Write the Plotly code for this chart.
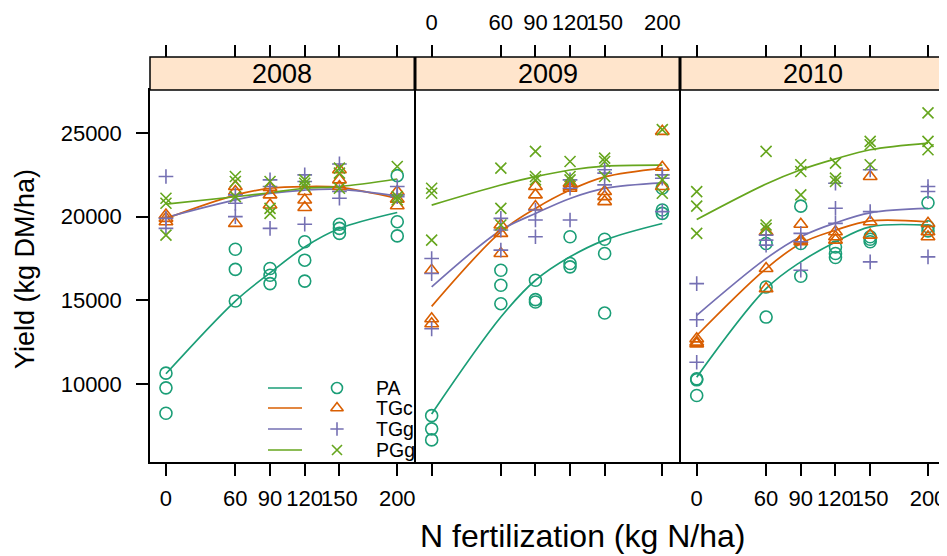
import plotly.graph_objects as go

W, H = 947, 556

# ---------------- data ----------------
years = ["2008", "2009", "2010"]
species = ["PA", "TGc", "TGg", "PGg"]
doses = [0, 60, 90, 120, 150, 200]
dose_labels = ["0", "60", "90", "120", "150", "200"]
y_ticks = [10000, 15000, 20000, 25000]
y_tick_labels = ["10000", "15000", "20000", "25000"]

# observed yields (kg DM/ha), 3 replicates per dose (doses 0,60,90,120,150,200)
pa_2008 = [10650, 9770, 8250, 18050, 16850, 14960, 16900, 16500, 16000,
           18500, 17400, 16150, 19550, 19300, 19000, 22450, 19700, 18850]
tgc_2008 = [20100, 19900, 19700, 21800, 21500, 19600, 21750, 21300, 20700,
            21500, 21000, 20550, 22800, 22200, 21800, 21500, 21050, 20650]
tgg_2008 = [22400, 19900, 19300, 21300, 20800, 20000, 22200, 21800, 19300,
            22500, 22100, 19550, 23150, 21500, 21100, 21800, 21200, 21300]
pgg_2008 = [21100, 20800, 18900, 22400, 22100, 21200, 22100, 20500, 20200,
            22200, 22000, 21800, 22900, 22600, 21700, 23000, 21200, 21000]

pa_2009 = [8110, 7320, 6660, 16800, 15900, 14800, 16200, 15040, 14900,
           18800, 17200, 17000, 18650, 17800, 14240, 21700, 20400, 20200]
tgc_2009 = [16800, 13900, 13600, 19500, 19000, 17800, 21800, 21300, 20600,
            22000, 21800, 21700, 21500, 21200, 20900, 25100, 22950, 21800]
tgg_2009 = [17500, 16600, 13300, 19900, 19200, 18000, 20400, 19800, 18800,
            22200, 21700, 19800, 22800, 22600, 21900, 22500, 20300, 22300]
pgg_2009 = [21700, 21400, 18600, 22900, 20500, 19500, 23900, 22400, 22200,
            23300, 22400, 22200, 23500, 23300, 22400, 25200, 22200, 21400]

pa_2010 = [10310, 10250, 9310, 18400, 15800, 14000, 20630, 18400, 16440,
           18190, 17800, 17560, 18500, 18800, 18650, 20830, 19400, 19150]
tgc_2010 = [12700, 12500, 12400, 19100, 16900, 15700, 19550, 18600, 18500,
            19100, 18800, 18600, 22400, 19700, 18900, 19600, 19100, 18800]
tgg_2010 = [16000, 13840, 11300, 18900, 18300, 18600, 19000, 18500, 16800,
            22000, 20500, 19600, 22800, 20300, 17300, 21800, 21500, 17600]
pgg_2010 = [21500, 20630, 19000, 23900, 19500, 19300, 23100, 22700, 21300,
            23200, 22300, 22100, 24500, 24300, 23100, 26200, 24500, 24000]

# fitted response curves read at doses 0,60,90,120,150,200
fit_pa_2008 = [10610, 14960, 16640, 18190, 19290, 20250]
fit_tgc_2008 = [19890, 21290, 21700, 21800, 21750, 21090]
fit_tgg_2008 = [19950, 21000, 21390, 21590, 21630, 21230]
fit_pgg_2008 = [20750, 21190, 21430, 21700, 21800, 22250]

fit_pa_2009 = [8210, 14000, 16200, 17600, 18600, 19590]
fit_tgc_2009 = [14640, 19090, 20490, 21590, 22380, 22890]
fit_tgg_2009 = [15800, 19190, 20190, 21090, 21690, 22020]
fit_pgg_2009 = [20690, 21890, 22390, 22790, 23020, 23080]

fit_pa_2010 = [10410, 15700, 17300, 18490, 19390, 19490]
fit_tgc_2010 = [12900, 16900, 18400, 19190, 19750, 19690]
fit_tgg_2010 = [14100, 17500, 18800, 19630, 20230, 20490]
fit_pgg_2010 = [19830, 21950, 22800, 23450, 24000, 24400]

obs = {
    "2008": [pa_2008, tgc_2008, tgg_2008, pgg_2008],
    "2009": [pa_2009, tgc_2009, tgg_2009, pgg_2009],
    "2010": [pa_2010, tgc_2010, tgg_2010, pgg_2010],
}
fits = {
    "2008": [fit_pa_2008, fit_tgc_2008, fit_tgg_2008, fit_pgg_2008],
    "2009": [fit_pa_2009, fit_tgc_2009, fit_tgg_2009, fit_pgg_2009],
    "2010": [fit_pa_2010, fit_tgc_2010, fit_tgg_2010, fit_pgg_2010],
}
dose_rep = [d for d in doses for _ in range(3)]

# ---------------- style / geometry ----------------
colors = ["#1B9E77", "#D95F02", "#7570B3", "#66A61E"]
symbols = ["circle-open", "triangle-up-open", "cross-thin-open", "x-thin-open"]
sizes = [12, 12, 10.5, 11]
FONT = "Liberation Sans, Arial, Helvetica, sans-serif"

OX, OY = 8, 8  # page body margin in the browser


def px(x):
    return (x - OX) / W


def py(y):
    return 1 - (y - OY) / H


LW = 1.5
xdom = [(px(150), px(415 - LW / 2)), (px(415 + LW / 2), px(680 - LW / 2)),
        (px(680 + LW / 2), px(945))]
ydom = (py(462), py(90))
xr = [-13.8, 214.7]
yr = [5339, 27570]
strip_top = py(57)

fig = go.Figure()

for i, yr_name in enumerate(years):
    xa = "x" if i == 0 else f"x{i+1}"
    ya = "y" if i == 0 else f"y{i+1}"
    for k in range(4):
        fig.add_trace(go.Scatter(
            x=doses, y=fits[yr_name][k], mode="lines", line_shape="spline",
            line=dict(color=colors[k], width=1.7), xaxis=xa, yaxis=ya,
            showlegend=False, hoverinfo="skip"))
    for k in range(4):
        fig.add_trace(go.Scatter(
            x=dose_rep, y=obs[yr_name][k], mode="markers",
            marker=dict(symbol=symbols[k], size=sizes[k], color=colors[k],
                        line=dict(color=colors[k], width=1.6)),
            xaxis=xa, yaxis=ya, showlegend=False, name=species[k]))
    # dummy trace for the top tick axis
    fig.add_trace(go.Scatter(x=[None], y=[None], xaxis=f"x{i+4}", yaxis=ya,
                             showlegend=False, hoverinfo="skip"))

axis_common = dict(showgrid=False, zeroline=False, ticks="outside", ticklen=12,
                   tickwidth=1.5, tickcolor="black", automargin=False,
                   tickangle=0,
                   tickfont=dict(family=FONT, size=22, color="black"))

layout = dict(width=W, height=H,
              margin=dict(l=0, r=0, t=0, b=0, autoexpand=False),
              paper_bgcolor="white", plot_bgcolor="rgba(0,0,0,0)",
              showlegend=False, font=dict(family=FONT, color="black"))

for i in range(3):
    xk = "xaxis" if i == 0 else f"xaxis{i+1}"
    yk = "yaxis" if i == 0 else f"yaxis{i+1}"
    ya = "y" if i == 0 else f"y{i+1}"
    xa = "x" if i == 0 else f"x{i+1}"
    layout[xk] = dict(axis_common, domain=list(xdom[i]), range=xr, anchor=ya,
                      tickvals=doses, ticktext=dose_labels,
                      showticklabels=(i != 1), showline=True, linewidth=LW,
                      linecolor="black", mirror=True, ticklabelstandoff=4)
    ycfg = dict(axis_common, domain=list(ydom), range=yr, anchor=xa,
                tickvals=y_ticks, ticktext=y_tick_labels,
                showline=True, linewidth=LW, linecolor="black", mirror=True)
    if i == 0:
        ycfg.update(showticklabels=True, ticklabelstandoff=10)
    elif i == 1:
        ycfg.update(ticks="", showticklabels=False)
    else:
        ycfg.update(side="right", showticklabels=False)
    layout[yk] = ycfg
    # top tick axes above the strips
    layout[f"xaxis{i+4}"] = dict(axis_common, domain=list(xdom[i]), range=xr,
                                 overlaying=xa, side="top", anchor="free",
                                 position=strip_top, tickvals=doses,
                                 ticktext=dose_labels, showticklabels=(i == 1),
                                 showline=False, ticklabelstandoff=6)

# overlay axes in screen-pixel coordinates for the key
layout["xaxis7"] = dict(domain=[0, 1], range=[OX, W + OX], visible=False,
                        anchor="y7", automargin=False)
layout["yaxis7"] = dict(domain=[0, 1], range=[H + OY, OY], visible=False,
                        anchor="x7", automargin=False)

fig.update_layout(**layout)

# strips
for i, yr_name in enumerate(years):
    fig.add_shape(type="rect", xref="paper", yref="paper",
                  x0=xdom[i][0], x1=xdom[i][1], y0=ydom[1], y1=strip_top,
                  fillcolor="#FFE5CC", line=dict(color="black", width=LW))
    fig.add_annotation(text=yr_name, xref="paper", yref="paper",
                       x=(xdom[i][0] + xdom[i][1]) / 2,
                       y=(ydom[1] + strip_top) / 2, showarrow=False,
                       font=dict(family=FONT, size=27, color="black"),
                       xanchor="center", yanchor="middle")

# key (inside the 2008 panel)
key_rows = [388, 408, 429, 450]
for k in range(4):
    fig.add_trace(go.Scatter(x=[268, 302], y=[key_rows[k]] * 2, mode="lines",
                             line=dict(color=colors[k], width=1.7),
                             xaxis="x7", yaxis="y7", showlegend=False,
                             hoverinfo="skip"))
    fig.add_trace(go.Scatter(x=[337], y=[key_rows[k]], mode="markers",
                             marker=dict(symbol=symbols[k], size=sizes[k] - 1,
                                         color=colors[k],
                                         line=dict(color=colors[k], width=1.6)),
                             xaxis="x7", yaxis="y7", showlegend=False,
                             hoverinfo="skip"))
    fig.add_annotation(text=species[k], xref="x7", yref="y7", x=374,
                       y=key_rows[k], showarrow=False, xanchor="left",
                       yanchor="middle",
                       font=dict(family=FONT, size=19.5, color="black"))

# axis titles
fig.add_annotation(text="N fertilization (kg N/ha)", xref="paper", yref="paper",
                   x=px(582), y=py(556), showarrow=False,
                   xanchor="center", yanchor="bottom",
                   font=dict(family=FONT, size=32, color="black"))
fig.add_annotation(text="Yield (kg DM/ha)", xref="paper", yref="paper",
                   x=px(25), y=py(269), showarrow=False, textangle=-90,
                   xanchor="center", yanchor="middle",
                   font=dict(family=FONT, size=27, color="black"))

fig.write_html("out.html")
